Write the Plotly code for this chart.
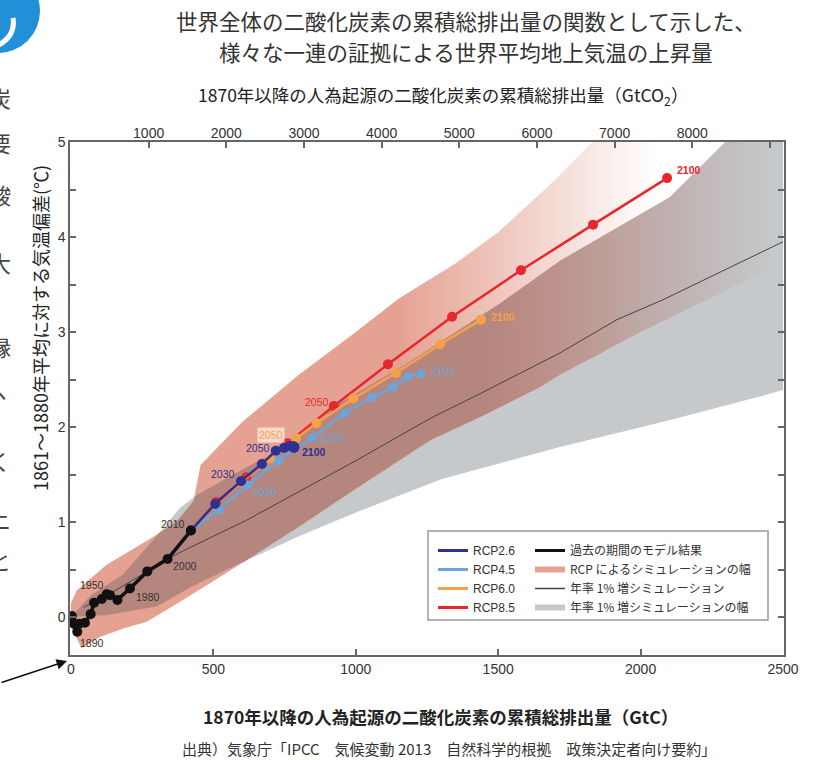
import numpy as np
import plotly.graph_objects as go

SANS = "Liberation Sans, Noto Sans CJK JP, sans-serif"
JP = "Noto Sans CJK JP, Liberation Sans, sans-serif"

# ---------------- data (cumulative GtC, temperature anomaly degC) ----------------
hist_years = [1870, 1880, 1890, 1900, 1910, 1920, 1930, 1940, 1950, 1960, 1970, 1980, 1990, 2000, 2010]
hist_x = [3, 10, 22, 29, 49, 69, 81, 108, 125, 137, 163, 207, 268, 339, 421]
hist_y = [0.01, -0.07, -0.155, -0.07, -0.06, 0.03, 0.15, 0.19, 0.24, 0.23, 0.18, 0.30, 0.48, 0.61, 0.91]

rcp_years = [2010, 2020, 2030, 2040, 2050, 2060, 2070, 2080, 2090, 2100]
rcp26_x = [421, 506, 597, 670, 719, 748, 768, 780, 785, 783]
rcp26_y = [0.91, 1.19, 1.43, 1.61, 1.75, 1.78, 1.80, 1.80, 1.79, 1.78]
rcp45_x = [421, 520, 621, 730, 850, 959, 1057, 1131, 1183, 1229]
rcp45_y = [0.91, 1.13, 1.39, 1.65, 1.89, 2.14, 2.31, 2.42, 2.53, 2.56]
rcp60_x = [421, 505, 598, 700, 790, 862, 991, 1141, 1296, 1440]
rcp60_y = [0.91, 1.18, 1.42, 1.67, 1.88, 2.04, 2.30, 2.57, 2.87, 3.13]
rcp85_x = [421, 510, 615, 760, 923, 1113, 1338, 1580, 1833, 2093]
rcp85_y = [0.91, 1.21, 1.47, 1.83, 2.22, 2.66, 3.16, 3.65, 4.13, 4.62]

pct_x = [43, 150, 376, 617, 1003, 1085, 1261, 1436, 1647, 1717, 1917, 2079, 2500]
pct_y = [0.10, 0.27, 0.67, 1.02, 1.65, 1.79, 2.09, 2.35, 2.67, 2.78, 3.13, 3.34, 3.95]

rcp_band_ux = [0, 20, 125, 277, 370, 430, 455, 600, 800, 1000, 1150, 1350, 1500, 1700, 1830, 2000, 2500]
rcp_band_uy = [0.15, 0.28, 0.55, 0.82, 1.0, 1.22, 1.6, 2.05, 2.55, 3.0, 3.35, 3.72, 4.05, 4.6, 5.0, 5.5, 7.0]
rcp_band_lx = [0, 37, 102, 184, 266, 350, 523, 800, 1000, 1261, 1447, 1647, 1717, 2000, 2233, 2430, 2500]
rcp_band_ly = [-0.1, -0.33, -0.21, -0.12, -0.05, 0.1, 0.42, 0.95, 1.35, 1.86, 2.12, 2.42, 2.55, 3.0, 3.34, 3.63, 3.73]

pct_band_ux = [0, 67, 183, 300, 383, 440, 600, 769, 944, 1180, 1506, 1717, 2103, 2297, 2500]
pct_band_uy = [0.0, 0.22, 0.45, 0.85, 1.15, 1.28, 1.55, 1.82, 2.25, 2.67, 3.3, 3.75, 4.42, 5.0, 5.5]
pct_band_lx = [0, 125, 301, 418, 547, 800, 1000, 1300, 1717, 2100, 2419, 2500]
pct_band_ly = [0.0, 0.02, 0.11, 0.31, 0.5, 0.85, 1.1, 1.45, 1.79, 2.07, 2.32, 2.39]

x_ticks = [0, 500, 1000, 1500, 2000, 2500]
top_ticks = [1000, 2000, 3000, 4000, 5000, 6000, 7000, 8000, 9000]
top_labels = ["1000", "2000", "3000", "4000", "5000", "6000", "7000", "8000", ""]
GTC_TO_GTCO2 = 3.667

C26, C45, C60, C85 = "#2e3192", "#6aa5dc", "#f5a04a", "#e8262d"
SALMON, BROWN, GRAY = "229,162,147", "181,134,126", "198,201,204"

# ---------------- geometry helpers (pixel -> paper) ----------------
L, R, T, B = 70, 784, 142, 655
def px(xp):
    return (xp - L) / (R - L)
def py(yp):
    return (B - yp) / (B - T)

fig = go.Figure()

# gray band (1%/yr simulations range)
gx = pct_band_ux + pct_band_lx[::-1]
gy = pct_band_uy + pct_band_ly[::-1]
fig.add_trace(go.Scatter(x=gx, y=gy, fill="toself", mode="none",
                         fillcolor=f"rgb({GRAY})", showlegend=False, hoverinfo="skip"))

# RCP band with fade
rx = rcp_band_ux + rcp_band_lx[::-1]
ry = rcp_band_uy + rcp_band_ly[::-1]
fig.add_trace(go.Scatter(x=rx, y=ry, fill="toself", mode="none",
                         fillgradient=dict(type="horizontal",
                                           colorscale=[[0, f"rgba({SALMON},1)"], [1, f"rgba({SALMON},0)"]],
                                           start=1150, stop=2050),
                         showlegend=False, hoverinfo="skip"))

# overlap (darker)
grid = np.linspace(0, 2500, 501)
ru = np.interp(grid, rcp_band_ux, rcp_band_uy)
rl = np.interp(grid, rcp_band_lx, rcp_band_ly)
gu = np.interp(grid, pct_band_ux, pct_band_uy)
gl = np.interp(grid, pct_band_lx, pct_band_ly)
lo = np.maximum(rl, gl)
hi = np.maximum(np.minimum(ru, gu), lo)
ox = list(grid) + list(grid[::-1])
oy = list(hi) + list(lo[::-1])
fig.add_trace(go.Scatter(x=ox, y=oy, fill="toself", mode="none",
                         fillgradient=dict(type="horizontal",
                                           colorscale=[[0, f"rgba({BROWN},1)"], [1, f"rgba({BROWN},0)"]],
                                           start=1450, stop=2480),
                         showlegend=False, hoverinfo="skip"))

# 1%/yr line
fig.add_trace(go.Scatter(x=pct_x, y=pct_y, mode="lines", line=dict(color="#444", width=1),
                         showlegend=False, hoverinfo="skip"))

# RCP series
for xs, ys, col, ms in [(rcp85_x, rcp85_y, C85, 10), (rcp60_x, rcp60_y, C60, 10),
                        (rcp45_x, rcp45_y, C45, 9), (rcp26_x, rcp26_y, C26, 10)]:
    fig.add_trace(go.Scatter(x=xs, y=ys, mode="lines+markers",
                             line=dict(color=col, width=2.5),
                             marker=dict(color=col, size=ms),
                             showlegend=False, hoverinfo="skip"))

# historical
fig.add_trace(go.Scatter(x=hist_x, y=hist_y, mode="lines+markers",
                         line=dict(color="#111", width=3.5),
                         marker=dict(color="#111", size=10),
                         showlegend=False, hoverinfo="skip"))

# dummy for top axis
fig.add_trace(go.Scatter(x=[None], y=[None], xaxis="x2", showlegend=False, hoverinfo="skip"))

# legend entries
for name, col in [("RCP2.6", C26), ("RCP4.5", C45), ("RCP6.0", C60), ("RCP8.5", C85)]:
    fig.add_trace(go.Scatter(x=[None], y=[None], mode="lines", line=dict(color=col, width=3),
                             name=name, legend="legend"))
fig.add_trace(go.Scatter(x=[None], y=[None], mode="lines", line=dict(color="#111", width=3),
                         name="過去の期間のモデル結果", legend="legend2"))
fig.add_trace(go.Scatter(x=[None], y=[None], mode="none", fill="toself", fillcolor=f"rgb({SALMON})",
                         name="RCP によるシミュレーションの幅", legend="legend2"))
fig.add_trace(go.Scatter(x=[None], y=[None], mode="lines", line=dict(color="#444", width=1.5),
                         name="年率 1% 増シミュレーション", legend="legend2"))
fig.add_trace(go.Scatter(x=[None], y=[None], mode="none", fill="toself", fillcolor=f"rgb({GRAY})",
                         name="年率 1% 増シミュレーションの幅", legend="legend2"))

ann = []
def lab(x, y, text, dx, dy, color, size=10.5, bold=False, bg=None):
    d = dict(x=x, y=y, xref="x", yref="y", text=f"<b>{text}</b>" if bold else text,
             showarrow=False, xshift=dx, yshift=-dy,
             font=dict(family=SANS, size=size, color=color))
    if bg:
        d.update(bgcolor=bg, borderpad=1)
    ann.append(d)

hi_ = {y: i for i, y in enumerate(hist_years)}
for yr, dx, dy in [(1890, 15, 11), (1950, -15, -9), (1980, 18, 8), (2000, 17, 7), (2010, -18, -7)]:
    i = hi_[yr]
    lab(hist_x[i], hist_y[i], str(yr), dx, dy, "#333")

ri = {y: i for i, y in enumerate(rcp_years)}
lab(rcp26_x[ri[2030]], rcp26_y[ri[2030]], "2030", -18, -7, C26)
lab(rcp26_x[ri[2050]], rcp26_y[ri[2050]], "2050", -18, -3, C26)
lab(rcp26_x[ri[2100]], rcp26_y[ri[2100]], "2100", 20, 4, C26, bold=True)
lab(rcp45_x[ri[2030]], rcp45_y[ri[2030]], "2030", 17, 7, C45)
lab(rcp45_x[ri[2050]], rcp45_y[ri[2050]], "2050", 19, 1, C45)
lab(rcp45_x[ri[2100]], rcp45_y[ri[2100]], "2100", 22, -3, C45)
lab(rcp60_x[ri[2050]], rcp60_y[ri[2050]], "2050", -25, -3, C60, bg="rgba(253,228,215,0.85)")
lab(rcp60_x[ri[2100]], rcp60_y[ri[2100]], "2100", 22, -3, C60, bold=True)
lab(rcp85_x[ri[2050]], rcp85_y[ri[2050]], "2050", -17, -4, C85)
lab(rcp85_x[ri[2100]], rcp85_y[ri[2100]], "2100", 22, -8, C85, bold=True)

def pann(xp, yp, text, size, color="#333", angle=0, bold=False, family=JP):
    ann.append(dict(x=px(xp), y=py(yp), xref="paper", yref="paper", text=text, showarrow=False,
                    xanchor="center", yanchor="middle", textangle=angle,
                    font=dict(family=family, size=size, color=color, weight="bold" if bold else "normal")))

pann(466, 21, "世界全体の二酸化炭素の累積総排出量の関数として示した、", 21.5)
pann(466, 51, "様々な一連の証拠による世界平均地上気温の上昇量", 21.5)
pann(443, 96, "1870年以降の人為起源の二酸化炭素の累積総排出量（GtCO<sub>2</sub>）", 17.5, "#222")
pann(440, 717, "1870年以降の人為起源の二酸化炭素の累積総排出量（GtC）", 17.5, "#222", bold=True)
pann(449, 748, "出典）気象庁「IPCC　気候変動 2013　自然科学的根拠　政策決定者向け要約」", 15)
pann(40, 328, "1861～1880年平均に対する気温偏差(℃)", 18, "#222", angle=-90)

# cut-off text column at left edge (page is cropped in the reference)
for ch, yc in [("炭", 97), ("要", 142), ("酸", 194), ("大", 262), ("縁", 346),
               ("ヽ", 392), ("く", 460), ("ニ", 520), ("と", 560)]:
    pann(0, yc, ch, 22, "#444")

# arrow pointing to origin label
ann.append(dict(x=px(67), y=py(661), xref="paper", yref="paper", text="", showarrow=True,
                ax=-68, ay=22, arrowhead=2, arrowsize=1.3, arrowwidth=1.6, arrowcolor="#111"))

shapes = [
    dict(type="rect", xref="paper", yref="paper", x0=px(428), x1=px(768), y0=py(620), y1=py(531),
         line=dict(color="#999", width=1.5), fillcolor="white", layer="above"),
    dict(type="circle", xref="paper", yref="paper", x0=px(-44), x1=px(40), y0=py(53), y1=py(-31),
         line=dict(width=0), fillcolor="#2190d8", layer="above"),
    dict(type="path", xref="paper", yref="paper",
         path=f"M {px(13)} {py(18)} Q {px(16)} {py(36)} {px(-3)} {py(46)}",
         line=dict(color="white", width=5), layer="above"),
]

axis_common = dict(showgrid=False, zeroline=False, ticks="inside", ticklen=6, tickwidth=1.5,
                   tickcolor="#666", tickfont=dict(family=SANS, size=14, color="#333"))

fig.update_layout(
    width=818, height=760,
    margin=dict(l=L, r=818 - R, t=T, b=760 - B),
    paper_bgcolor="white", plot_bgcolor="white",
    font=dict(family=SANS, color="#333"),
    hovermode=False,
    xaxis=dict(range=[-3.5, 2503.5], tickvals=x_ticks, showline=True, linecolor="#666",
               linewidth=1.5, mirror=True, **axis_common),
    xaxis2=dict(overlaying="x", side="top", anchor="y",
                range=[-3.5 * GTC_TO_GTCO2, 2503.5 * GTC_TO_GTCO2],
                tickvals=top_ticks, ticktext=top_labels, showline=False, **axis_common),
    yaxis=dict(range=[-0.4, 5.0], tickvals=[i * 0.5 for i in range(11)],
               ticktext=[str(i // 2) if i % 2 == 0 else "" for i in range(11)],
               showline=True, linecolor="#666", linewidth=1.5, mirror="ticks", **axis_common),
    legend=dict(x=px(433), y=py(536), xanchor="left", yanchor="top", bgcolor="rgba(0,0,0,0)",
                borderwidth=0, font=dict(family=SANS, size=12, color="#333"), tracegroupgap=0),
    legend2=dict(x=px(530), y=py(536), xanchor="left", yanchor="top", bgcolor="rgba(0,0,0,0)",
                 borderwidth=0, font=dict(family=JP, size=12, color="#333"), tracegroupgap=0),
    annotations=ann,
    shapes=shapes,
)

fig.write_html("out.html", config={"displayModeBar": False},
               post_script="document.body.style.margin='0';document.body.style.overflow='hidden';")
